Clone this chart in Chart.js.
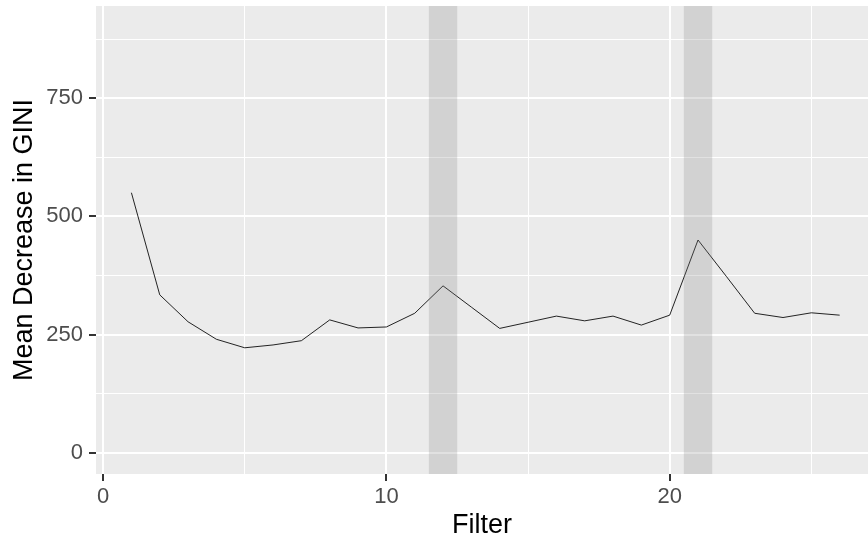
<!DOCTYPE html>
<html>
<head>
<meta charset="utf-8">
<script src="https://cdn.jsdelivr.net/npm/chart.js@4.4.1/dist/chart.umd.min.js"></script>
<style>
  html, body { margin: 0; padding: 0; background: #fff; }
</style>
</head>
<body>
<canvas id="myChart" width="868" height="544"></canvas>
<script>
const filters = [1, 2, 3, 4, 5, 6, 7, 8, 9, 10, 11, 12, 13, 14, 15, 16, 17, 18, 19, 20, 21, 22, 23, 24, 25, 26];
const gini = [550, 334, 277, 240, 222, 228, 237, 281, 264, 266, 295, 353, 308, 263, 276, 289, 279, 289, 270, 291, 450, 373, 295, 286, 296, 291];

// shaded bands (filter ranges)
const bandStart = [11.5, 20.5];
const bandEnd = [12.5, 21.5];

const xTicks = [0, 5, 10, 15, 20, 25];
const yTicks = [0, 125, 250, 375, 500, 625, 750, 875];
const xMajor = [0, 10, 20];
const yMajor = [0, 250, 500, 750];

const panel = {
  id: 'panel',
  beforeDraw(chart) {
    const { ctx, chartArea: a } = chart;
    ctx.save();
    ctx.fillStyle = '#EBEBEB';
    ctx.fillRect(a.left, a.top, a.right - a.left, a.bottom - a.top);
    ctx.restore();
  },
  afterDatasetsDraw(chart) {
    const { ctx, chartArea: a, scales: { x } } = chart;
    ctx.save();
    ctx.fillStyle = 'rgba(128,128,128,0.24)';
    bandStart.forEach((s, i) => {
      const x0 = x.getPixelForValue(s);
      const x1 = x.getPixelForValue(bandEnd[i]);
      ctx.fillRect(x0, a.top, x1 - x0, a.bottom - a.top);
    });
    ctx.restore();
  }
};

const tickFont = { family: 'Liberation Sans', size: 22 };
const titleFont = { family: 'Liberation Sans', size: 27 };

const data = {
  datasets: [{
    data: filters.map((f, i) => ({ x: f, y: gini[i] })),
    borderColor: 'rgba(0,0,0,0.85)',
    borderWidth: 1,
    pointRadius: 0,
    tension: 0,
  }]
};

const config = {
  type: 'line',
  data,
  plugins: [panel],
  options: {
    responsive: false,
    animation: false,
    layout: { padding: { top: 6, right: 0, left: 0, bottom: 0 } },
    plugins: { legend: { display: false }, tooltip: { enabled: false } },
    scales: {
      x: {
        type: 'linear',
        min: -0.25,
        max: 27.0,
        afterBuildTicks: s => { s.ticks = xTicks.map(v => ({ value: v })); },
        afterFit: s => { s.height = 70; s.paddingLeft = 0; s.paddingRight = 0; },
        border: { display: false },
        grid: {
          color: '#FFFFFF',
          lineWidth: c => xMajor.includes(c.tick.value) ? 2 : 1,
          tickColor: c => xMajor.includes(c.tick.value) ? '#333333' : 'rgba(0,0,0,0)',
          tickWidth: 2,
          tickLength: 7,
        },
        ticks: {
          autoSkip: false,
          maxRotation: 0,
          color: '#4D4D4D',
          font: tickFont,
          padding: 3,
          callback: v => xMajor.includes(v) ? String(v) : '',
        },
        title: { display: true, text: 'Filter', color: '#000', font: titleFont, padding: { top: 0, bottom: 2 } },
      },
      y: {
        type: 'linear',
        min: -45,
        max: 945,
        afterBuildTicks: s => { s.ticks = yTicks.map(v => ({ value: v })); },
        afterFit: s => { s.width = 96; s.paddingTop = 0; s.paddingBottom = 0; },
        border: { display: false },
        grid: {
          color: '#FFFFFF',
          lineWidth: c => yMajor.includes(c.tick.value) ? 2 : 1,
          tickColor: c => yMajor.includes(c.tick.value) ? '#333333' : 'rgba(0,0,0,0)',
          tickWidth: 2,
          tickLength: 7,
        },
        ticks: {
          autoSkip: false,
          color: '#4D4D4D',
          font: tickFont,
          padding: 6,
          callback: v => yMajor.includes(v) ? String(v) : '',
        },
        title: { display: true, text: 'Mean Decrease in GINI', color: '#000', font: titleFont, padding: { top: 8, bottom: 0 } },
      }
    }
  }
};

new Chart(document.getElementById('myChart'), config);
</script>
</body>
</html>
